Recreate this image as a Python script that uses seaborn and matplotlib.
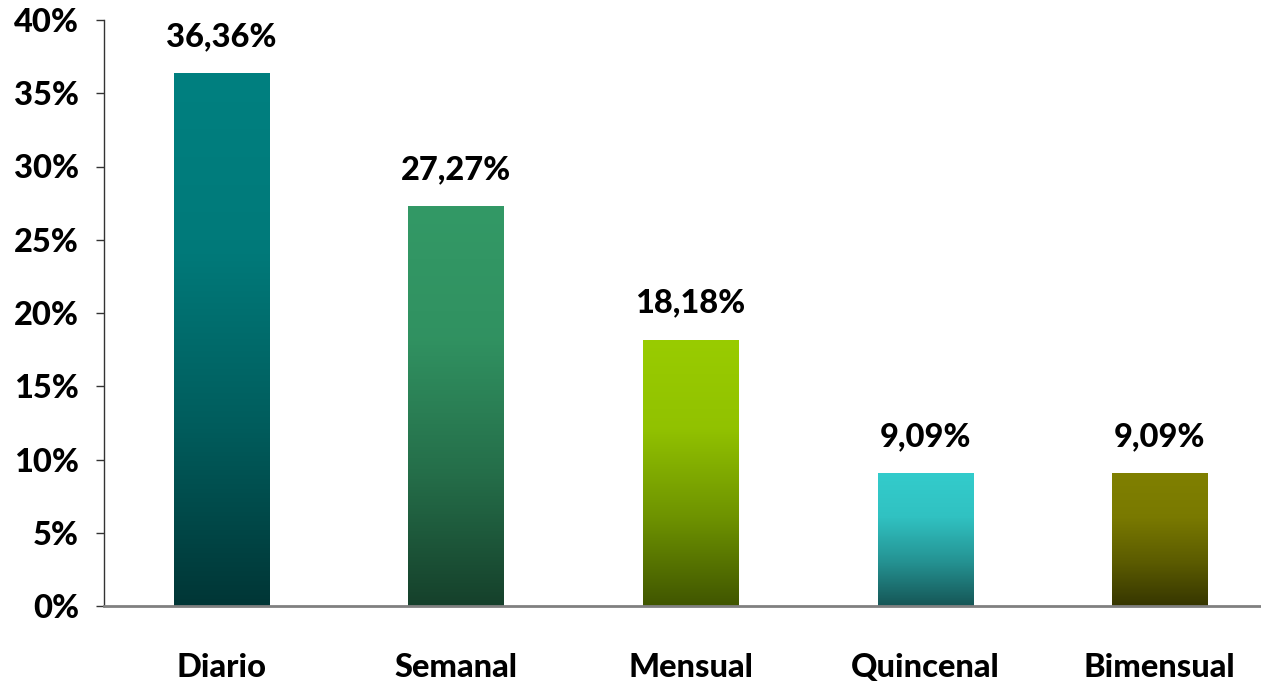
import matplotlib
matplotlib.use("Agg")
import matplotlib.pyplot as plt
import seaborn as sns
import numpy as np
import pandas as pd
from matplotlib.colors import to_rgb, LinearSegmentedColormap

categories = ["Diario", "Semanal", "Mensual", "Quincenal", "Bimensual"]
values = [36.36, 27.27, 18.18, 9.09, 9.09]
top_colors = ["#008080", "#339966", "#99CC00", "#33CCCC", "#808000"]
yticks = [0, 5, 10, 15, 20, 25, 30, 35, 40]

sns.set_theme(style="white")
plt.rcParams["font.family"] = ["Lato", "DejaVu Sans"]
FW = "black"
FS = 23.5

fig = plt.figure(figsize=(12.61, 6.83), dpi=100)
ax = fig.add_axes([104/1261, 77/683, 1173/1261, 586/683])

df = pd.DataFrame({"cat": categories, "val": values})
sns.barplot(data=df, x="cat", y="val", hue="cat", palette=top_colors,
            width=0.405, legend=False, ax=ax, saturation=1)

# gradient fill for each bar
for patch, col in zip(ax.patches, top_colors):
    x0 = patch.get_x(); w = patch.get_width(); h = patch.get_height()
    c = np.array(to_rgb(col))
    dark = c * 0.42
    cmap = LinearSegmentedColormap.from_list("g", [dark, c * 0.72, c * 0.95, c], N=256)
    grad = np.linspace(0, 1, 256).reshape(-1, 1)
    im = ax.imshow(grad, extent=[x0, x0 + w, 0, h], origin="lower",
                   aspect="auto", cmap=cmap, zorder=2)
    im.set_clip_path(patch)
    patch.set_edgecolor("none")

ax.set_ylim(0, 40)
ax.set_xlim(-0.5, len(categories) - 0.5)

for i, v in enumerate(values):
    ax.text(i, v + 1.5, f"{v:.2f}".replace(".", ",") + "%", ha="center", va="bottom",
            fontsize=FS, fontweight=FW, color="black")

ax.set_yticks(yticks)
ax.set_yticklabels([f"{t}%" for t in yticks], fontsize=FS, fontweight=FW)
ax.set_xticks(range(len(categories)))
ax.set_xticklabels(categories, fontsize=FS, fontweight=FW)
ax.set_xticks(np.arange(-0.5, len(categories), 1.0), minor=True)
ax.tick_params(axis="x", which="major", length=0, pad=34, colors="black")
ax.tick_params(axis="x", which="minor", length=9, width=1.2, color="#222222", direction="out")
ax.tick_params(axis="y", which="major", length=6, width=1.0, color="#333333",
               direction="out", pad=12, left=True, labelcolor="black")

ax.set_xlabel("")
ax.set_ylabel("")
for s in ["top", "right"]:
    ax.spines[s].set_visible(False)
ax.spines["left"].set_color("#333333")
ax.spines["left"].set_linewidth(1.0)
ax.spines["bottom"].set_color("#808080")
ax.spines["bottom"].set_linewidth(2.0)
ax.spines["bottom"].set_zorder(5)
ax.grid(False)

fig.savefig("out.png", dpi=100)
